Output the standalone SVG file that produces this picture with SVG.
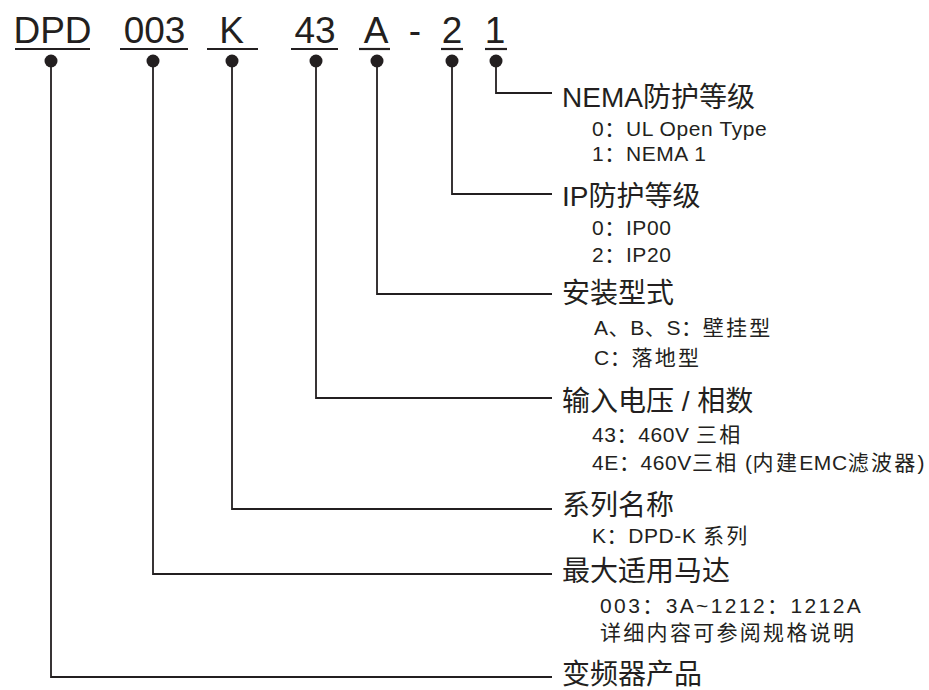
<svg xmlns="http://www.w3.org/2000/svg" width="929" height="690" viewBox="0 0 929 690">
<style>
text{font-family:"Liberation Sans","Noto Sans CJK SC",sans-serif;fill:#231f20}
.hd{font-size:37px;text-anchor:middle}
.t{font-size:28px}
.s{font-size:21px;letter-spacing:0.6px}
.c{letter-spacing:2.3px}
.w{letter-spacing:2.4px}
.ln{stroke:#231f20;stroke-width:1.8;fill:none}
.ul{stroke:#231f20;stroke-width:2.2}
.dot{fill:#231f20}
</style>
<rect width="929" height="690" fill="#fff"/>
<g id="code">
<text class="hd" x="52.5" y="43">DPD</text>
<text class="hd" x="154.5" y="43">003</text>
<text class="hd" x="231.5" y="43">K</text>
<text class="hd" x="315" y="43">43</text>
<text class="hd" x="376" y="43">A</text>
<text class="hd" x="415" y="43">-</text>
<text class="hd" x="452" y="43">2</text>
<text class="hd" x="495" y="43">1</text>
<line class="ul" x1="15" y1="49" x2="90" y2="49"/>
<line class="ul" x1="120" y1="49" x2="188" y2="49"/>
<line class="ul" x1="207" y1="49" x2="258" y2="49"/>
<line class="ul" x1="291" y1="49" x2="338" y2="49"/>
<line class="ul" x1="359" y1="49" x2="390" y2="49"/>
<line class="ul" x1="441" y1="49" x2="463" y2="49"/>
<line class="ul" x1="485" y1="49" x2="507" y2="49"/>
<circle class="dot" cx="51" cy="61" r="6.5"/>
<circle class="dot" cx="153" cy="61" r="6.5"/>
<circle class="dot" cx="232" cy="61" r="6.5"/>
<circle class="dot" cx="316" cy="61" r="6.5"/>
<circle class="dot" cx="377" cy="61" r="6.5"/>
<circle class="dot" cx="452" cy="61" r="6.5"/>
<circle class="dot" cx="496" cy="61" r="6.5"/>
</g>
<g id="connectors">
<polyline class="ln" points="496,61 496,93 552,93"/>
<polyline class="ln" points="452,61 452,194 552,194"/>
<polyline class="ln" points="377,61 377,294 552,294"/>
<polyline class="ln" points="316,61 316,398 552,398"/>
<polyline class="ln" points="232,61 232,509 552,509"/>
<polyline class="ln" points="153,61 153,574 552,574"/>
<polyline class="ln" points="51,61 51,677 552,677"/>
</g>
<g id="nema">
<text class="t" x="562" y="107">NEMA防护等级</text>
<text class="s" x="592" y="136">0：UL Open Type</text>
<text class="s" x="592" y="161">1：NEMA 1</text>
</g>
<g id="ip">
<text class="t" x="562" y="206">IP防护等级</text>
<text class="s" x="592" y="235">0：IP00</text>
<text class="s" x="592" y="262">2：IP20</text>
</g>
<g id="mount">
<text class="t" x="562" y="303">安装型式</text>
<text class="s" x="594" y="335">A、B、S：<tspan class="c">壁挂型</tspan></text>
<text class="s" x="594" y="365">C：<tspan class="c">落地型</tspan></text>
</g>
<g id="voltage">
<text class="t" x="562" y="411">输入电压 / 相数</text>
<text class="s" x="592" y="442">43：460V <tspan class="c">三相</tspan></text>
<text class="s" x="592" y="470">4E：460V<tspan class="c">三相</tspan> (<tspan class="c">内建</tspan>EMC<tspan class="c">滤波器</tspan>)</text>
</g>
<g id="series">
<text class="t" x="562" y="515">系列名称</text>
<text class="s" x="592" y="543">K：DPD-K <tspan class="c">系列</tspan></text>
</g>
<g id="motor">
<text class="t" x="562" y="581">最大适用马达</text>
<text class="s w" x="600" y="613">003：3A~1212：1212A</text>
<text class="s c" x="600" y="640">详细内容可参阅规格说明</text>
</g>
<g id="product">
<text class="t" x="562" y="684">变频器产品</text>
</g>
</svg>
